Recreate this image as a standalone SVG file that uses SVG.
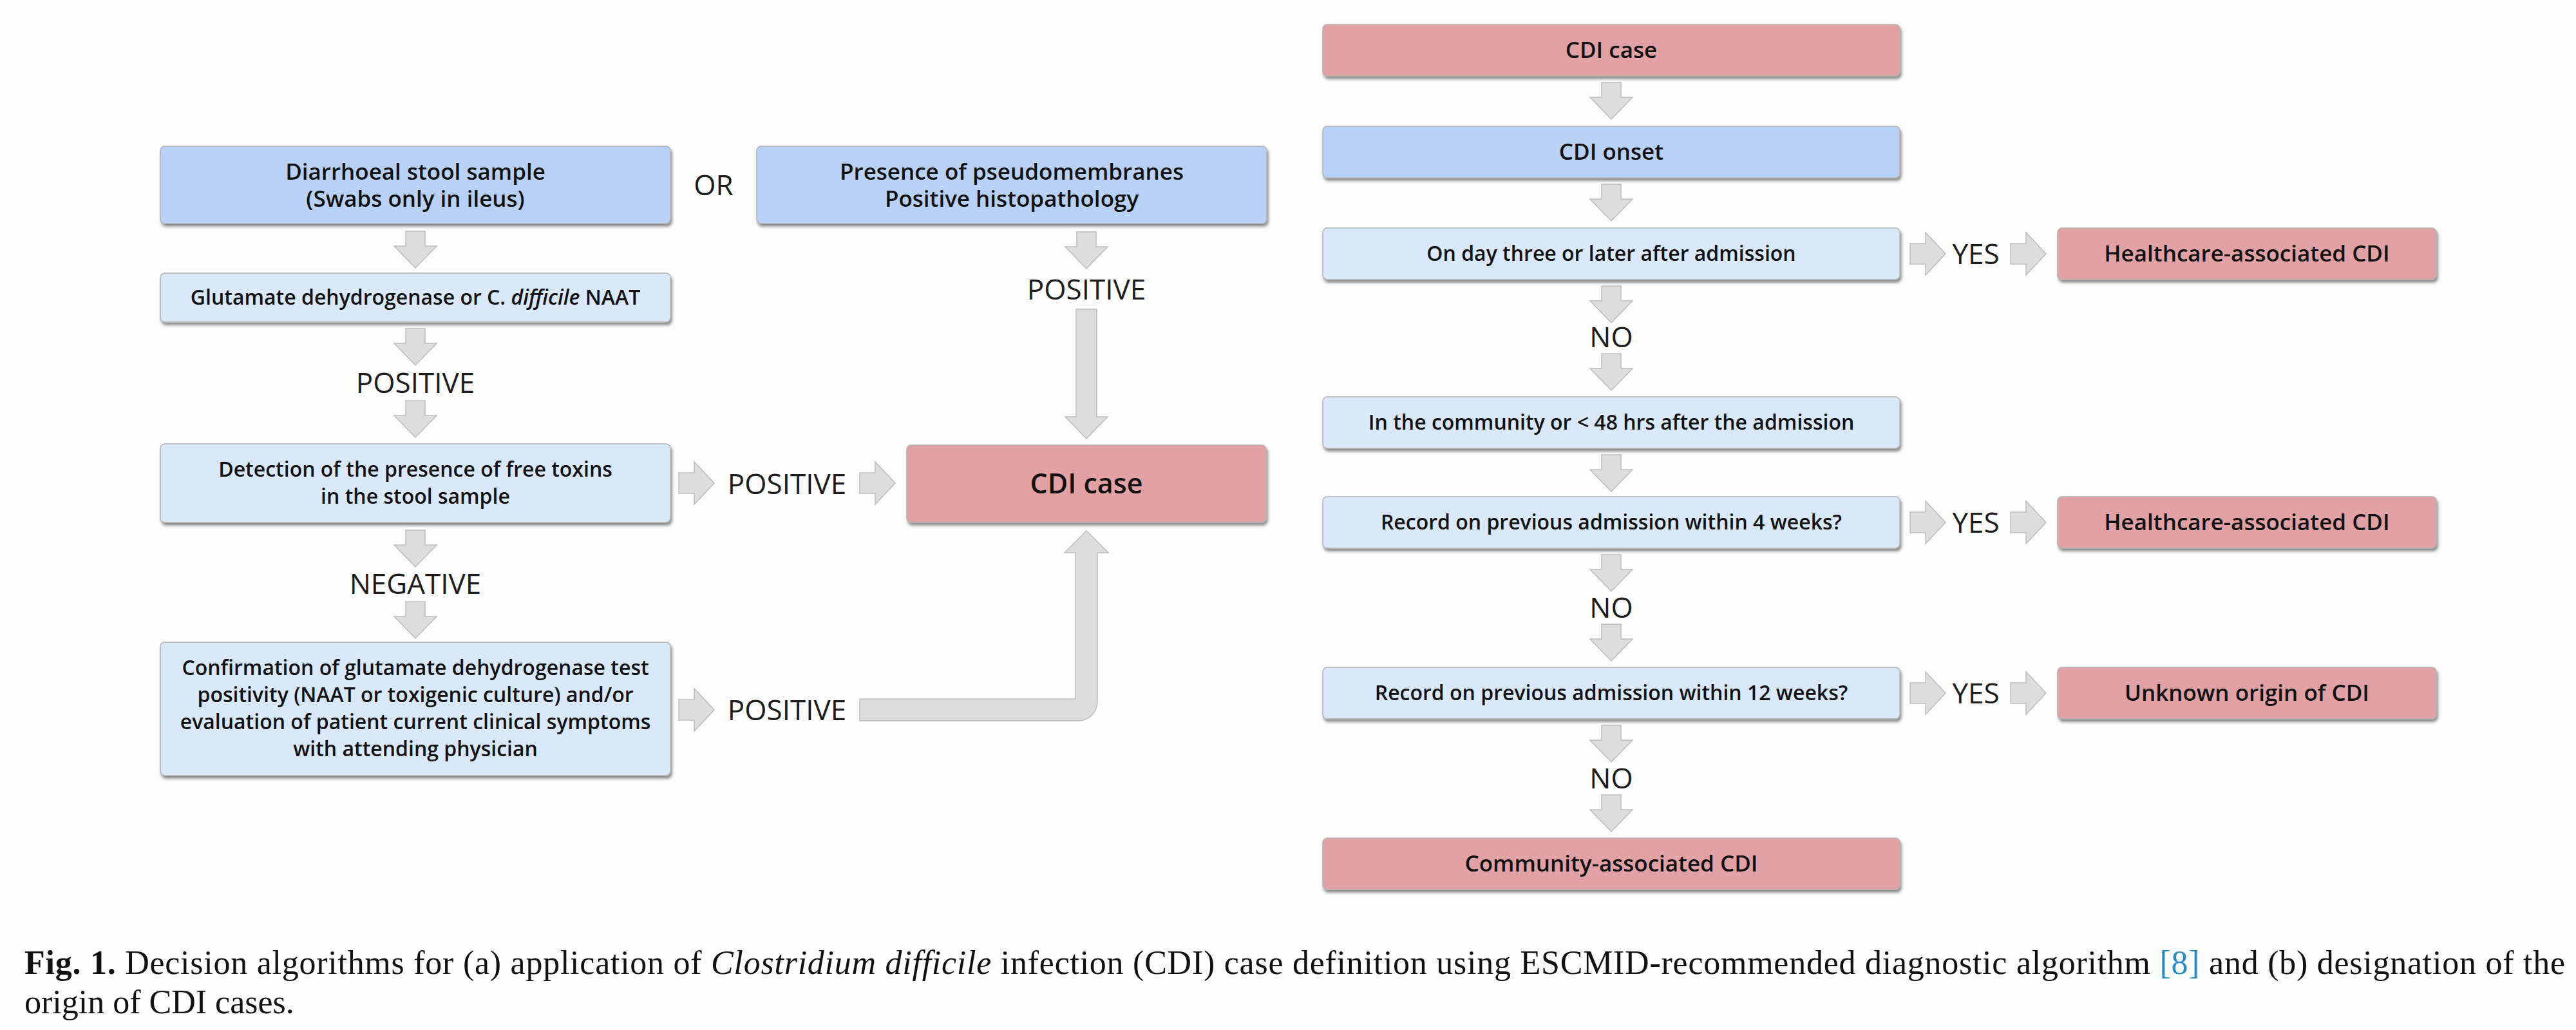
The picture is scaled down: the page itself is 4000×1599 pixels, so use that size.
<svg xmlns="http://www.w3.org/2000/svg" xmlns:xlink="http://www.w3.org/1999/xlink" width="4000" height="1599" viewBox="0 0 4000 1599">
<defs>
<filter id="sh" x="-5%" y="-10%" width="110%" height="130%">
<feDropShadow dx="2" dy="4" stdDeviation="2" flood-color="#3a3a3a" flood-opacity="0.6"/>
</filter>
<path id="ad" d="M-15,0 H15 V23 H33 L0,57 L-33,23 H-15 Z"/>
<path id="ar" d="M0,-16 H24 V-33 L55,0 L24,33 V16 H0 Z"/>
<style>
.box{stroke:#b4b4b4;stroke-width:1.5;filter:url(#sh)}
.db{fill:#b9d1f6}
.lb{fill:#d9e8fb}
.rd{fill:#e2a1a4}
.t{font-family:"Open Sans","Liberation Sans",sans-serif;font-weight:600;fill:#111;text-anchor:middle}
.s32{font-size:32px}
.s35{font-size:35px}
.s43{font-size:43px}
.lab{font-family:"Open Sans","Liberation Sans",sans-serif;font-weight:400;font-size:44px;fill:#1c1c1c;text-anchor:middle}
.arr{fill:#dddddd;stroke:#bdbdbd;stroke-width:1.5}
.cap{font-family:"Liberation Serif",serif;font-size:52px;fill:#111}
</style>
</defs>
<rect width="4000" height="1599" fill="#fdfdfd"/>

<g id="connectors" class="arr">
<use xlink:href="#ad" href="#ad" x="645" y="359"/>
<use xlink:href="#ad" href="#ad" x="645" y="510"/>
<use xlink:href="#ad" href="#ad" x="645" y="622"/>
<use xlink:href="#ad" href="#ad" x="645" y="823"/>
<use xlink:href="#ad" href="#ad" x="645" y="934"/>
<use xlink:href="#ad" href="#ad" x="1687" y="360"/>
<path d="M1671,480 H1703 V647 H1720 L1687,681 L1654,647 H1671 Z"/>
<use xlink:href="#ar" href="#ar" x="1054" y="750"/>
<use xlink:href="#ar" href="#ar" x="1335" y="750"/>
<use xlink:href="#ar" href="#ar" x="1054" y="1102"/>
<path d="M1335,1085 H1670 V858 H1653 L1687,824 L1721,858 H1704 V1089 A30,30 0 0 1 1674,1119 H1335 Z"/>
<use xlink:href="#ad" href="#ad" x="2502" y="128"/>
<use xlink:href="#ad" href="#ad" x="2502" y="286"/>
<use xlink:href="#ad" href="#ad" x="2502" y="444"/>
<use xlink:href="#ad" href="#ad" x="2502" y="549"/>
<use xlink:href="#ad" href="#ad" x="2502" y="706"/>
<use xlink:href="#ad" href="#ad" x="2502" y="861"/>
<use xlink:href="#ad" href="#ad" x="2502" y="969"/>
<use xlink:href="#ad" href="#ad" x="2502" y="1126"/>
<use xlink:href="#ad" href="#ad" x="2502" y="1234"/>
<use xlink:href="#ar" href="#ar" x="2966" y="394"/>
<use xlink:href="#ar" href="#ar" x="3122" y="394"/>
<use xlink:href="#ar" href="#ar" x="2966" y="811"/>
<use xlink:href="#ar" href="#ar" x="3122" y="811"/>
<use xlink:href="#ar" href="#ar" x="2966" y="1076"/>
<use xlink:href="#ar" href="#ar" x="3122" y="1076"/>
</g>

<g id="labels" class="lab">
<text x="1108" y="303">OR</text>
<text x="645" y="610">POSITIVE</text>
<text x="645" y="922">NEGATIVE</text>
<text x="1687" y="465">POSITIVE</text>
<text x="1222" y="767">POSITIVE</text>
<text x="1222" y="1118">POSITIVE</text>
<text x="3068" y="410">YES</text>
<text x="3068" y="827">YES</text>
<text x="3068" y="1092">YES</text>
<text x="2502" y="539">NO</text>
<text x="2502" y="959">NO</text>
<text x="2502" y="1224">NO</text>
</g>

<g id="n1"><rect class="box db" x="249" y="227" width="792" height="120" rx="7"/>
<text class="t s35" x="645" y="279">Diarrhoeal stool sample</text>
<text class="t s35" x="645" y="321">(Swabs only in ileus)</text></g>
<g id="n2"><rect class="box db" x="1175" y="227" width="792" height="120" rx="7"/>
<text class="t s35" x="1571" y="279">Presence of pseudomembranes</text>
<text class="t s35" x="1571" y="321">Positive histopathology</text></g>
<g id="n3"><rect class="box lb" x="249" y="424" width="792" height="76" rx="7"/>
<text class="t s32" x="645" y="473">Glutamate dehydrogenase or C. <tspan font-style="italic">difficile</tspan> NAAT</text></g>
<g id="n4"><rect class="box lb" x="249" y="689" width="792" height="122" rx="7"/>
<text class="t s32" x="645" y="740">Detection of the presence of free toxins</text>
<text class="t s32" x="645" y="782">in the stool sample</text></g>
<g id="n5"><rect class="box lb" x="249" y="997" width="792" height="207" rx="7"/>
<text class="t s32" x="645" y="1048">Confirmation of glutamate dehydrogenase test</text>
<text class="t s32" x="645" y="1090">positivity (NAAT or toxigenic culture) and/or</text>
<text class="t s32" x="645" y="1132">evaluation of patient current clinical symptoms</text>
<text class="t s32" x="645" y="1174">with attending physician</text></g>
<g id="n6"><rect class="box rd" x="1408" y="691" width="558" height="120" rx="7"/>
<text class="t s43" x="1687" y="766">CDI case</text></g>

<g id="r1"><rect class="box rd" x="2054" y="38" width="896" height="80" rx="7"/>
<text class="t s35" x="2502" y="90">CDI case</text></g>
<g id="r2"><rect class="box db" x="2054" y="196" width="896" height="80" rx="7"/>
<text class="t s35" x="2502" y="248">CDI onset</text></g>
<g id="r3"><rect class="box lb" x="2054" y="354" width="896" height="80" rx="7"/>
<text class="t s32" x="2502" y="405">On day three or later after admission</text></g>
<g id="r4"><rect class="box rd" x="3195" y="354" width="588" height="80" rx="7"/>
<text class="t s35" x="3489" y="406">Healthcare-associated CDI</text></g>
<g id="r5"><rect class="box lb" x="2054" y="616" width="896" height="80" rx="7"/>
<text class="t s32" x="2502" y="667">In the community or &lt; 48 hrs after the admission</text></g>
<g id="r6"><rect class="box lb" x="2054" y="771" width="896" height="80" rx="7"/>
<text class="t s32" x="2502" y="822">Record on previous admission within 4 weeks?</text></g>
<g id="r7"><rect class="box rd" x="3195" y="771" width="588" height="80" rx="7"/>
<text class="t s35" x="3489" y="823">Healthcare-associated CDI</text></g>
<g id="r8"><rect class="box lb" x="2054" y="1036" width="896" height="80" rx="7"/>
<text class="t s32" x="2502" y="1087">Record on previous admission within 12 weeks?</text></g>
<g id="r9"><rect class="box rd" x="3195" y="1036" width="588" height="80" rx="7"/>
<text class="t s35" x="3489" y="1088">Unknown origin of CDI</text></g>
<g id="r10"><rect class="box rd" x="2054" y="1301" width="896" height="80" rx="7"/>
<text class="t s35" x="2502" y="1353">Community-associated CDI</text></g>

<g id="caption">
<text class="cap" x="38" y="1512" textLength="3945" lengthAdjust="spacing"><tspan font-weight="bold">Fig. 1.</tspan> Decision algorithms for (a) application of <tspan font-style="italic">Clostridium difficile</tspan> infection (CDI) case definition using ESCMID-recommended diagnostic algorithm <tspan fill="#2a8cc4">[8]</tspan> and (b) designation of the</text>
<text class="cap" x="38" y="1573">origin of CDI cases.</text>
</g>
</svg>
